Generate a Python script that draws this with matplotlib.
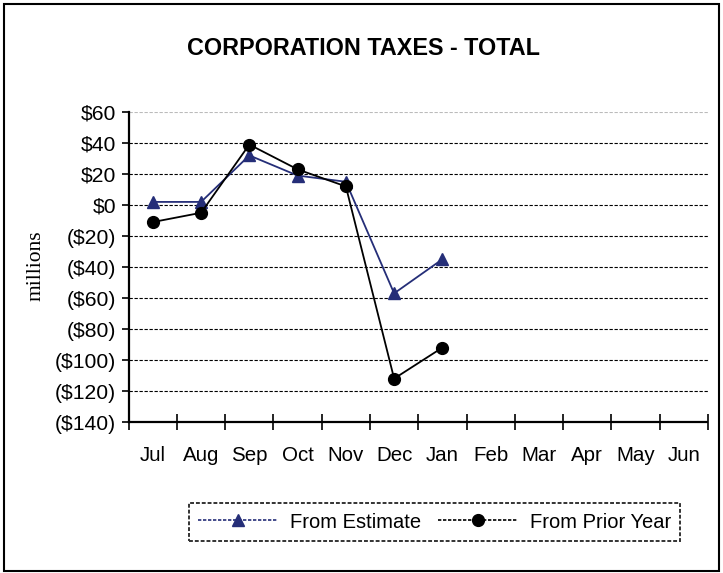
import numpy as np
import matplotlib
matplotlib.use('Agg')
import matplotlib.pyplot as plt
from matplotlib.lines import Line2D
from matplotlib.patches import Rectangle

plt.rcParams['font.family'] = ['Liberation Sans', 'DejaVu Sans']

# ---------------------------------------------------------
# Data (millions), fiscal year Jul..Jun, reported through Jan
# ---------------------------------------------------------
MONTHS = ['Jul', 'Aug', 'Sep', 'Oct', 'Nov', 'Dec', 'Jan', 'Feb', 'Mar', 'Apr', 'May', 'Jun']
FROM_ESTIMATE = [2, 2, 32, 19, 15, -57, -35]
FROM_PRIOR_YEAR = [-11, -5, 39, 23, 12, -112, -92]
Y_TICKS = [60, 40, 20, 0, -20, -40, -60, -80, -100, -120, -140]
Y_LABELS = ['$60', '$40', '$20', '$0', '($20)', '($40)', '($60)', '($80)',
            '($100)', '($120)', '($140)']

NAVY = '#252E78'

fig = plt.figure(figsize=(7.23, 5.73), dpi=100)
ax = fig.add_axes([0.178, 0.2635, 0.801, 0.541])

x_est = np.arange(len(FROM_ESTIMATE))
x_py = np.arange(len(FROM_PRIOR_YEAR))
ax.plot(x_est, FROM_ESTIMATE, color=NAVY, linewidth=1.3, marker='^',
        markersize=9, zorder=3)
ax.plot(x_py, FROM_PRIOR_YEAR, color='black', linewidth=1.3, marker='o',
        markersize=8.5, zorder=4)

ax.set_xlim(-0.5, len(MONTHS) - 0.5)
ax.set_ylim(-140, 60)

# y axis
ax.set_yticks(Y_TICKS)
ax.set_yticklabels(Y_LABELS)
ax.tick_params(axis='y', direction='out', length=5, width=1.2, labelsize=15.2, pad=4)

# x axis: ticks at category boundaries, labels at centres
ax.set_xticks(np.arange(len(MONTHS) + 1) - 0.5)
ax.set_xticklabels([])
ax.set_xticks(np.arange(len(MONTHS)), minor=True)
ax.set_xticklabels(MONTHS, minor=True)
ax.tick_params(axis='x', which='major', direction='inout', length=11, width=1.2)
ax.tick_params(axis='x', which='minor', length=0, labelsize=14.8, pad=17)

# grid
ax.yaxis.grid(True, color='black', linestyle=(0, (3, 1.5)), linewidth=0.8)
ax.xaxis.grid(False)
ax.set_axisbelow(True)
ax.get_ygridlines()[0].set_color('#bbbbbb')

for side in ['top', 'right']:
    ax.spines[side].set_visible(False)
for side in ['left', 'bottom']:
    ax.spines[side].set_linestyle((0, (2, 1)))
    ax.spines[side].set_linewidth(1.6)

fig.text(0.503, 0.916, 'CORPORATION TAXES - TOTAL', ha='center', va='center',
         fontsize=16.8, fontweight='bold')
fig.text(0.05, 0.536, 'millions', rotation=90, ha='center', va='center',
         fontsize=15.5, family=['Liberation Serif', 'DejaVu Serif'])

handles = [
    Line2D([], [], color=NAVY, linestyle=(0, (2, 1)), linewidth=1.2, marker='^', markersize=9),
    Line2D([], [], color='black', linestyle=(0, (2, 1)), linewidth=1.2, marker='o', markersize=8.5),
]
leg = fig.legend(handles, ['From Estimate', 'From Prior Year'], loc='center',
                 bbox_to_anchor=(0.601, 0.089), ncol=2, fontsize=14.5,
                 frameon=True, fancybox=False, handlelength=4, columnspacing=0.8,
                 handletextpad=0.6, borderpad=0.45, borderaxespad=0)
frame = leg.get_frame()
frame.set_edgecolor('black')
frame.set_linestyle((0, (2, 1)))
frame.set_linewidth(1.4)

fig.add_artist(Rectangle((0.006, 0.004), 0.988, 0.989, transform=fig.transFigure,
                         fill=False, edgecolor='black', linewidth=1.5))

fig.savefig('out.png', dpi=100)
